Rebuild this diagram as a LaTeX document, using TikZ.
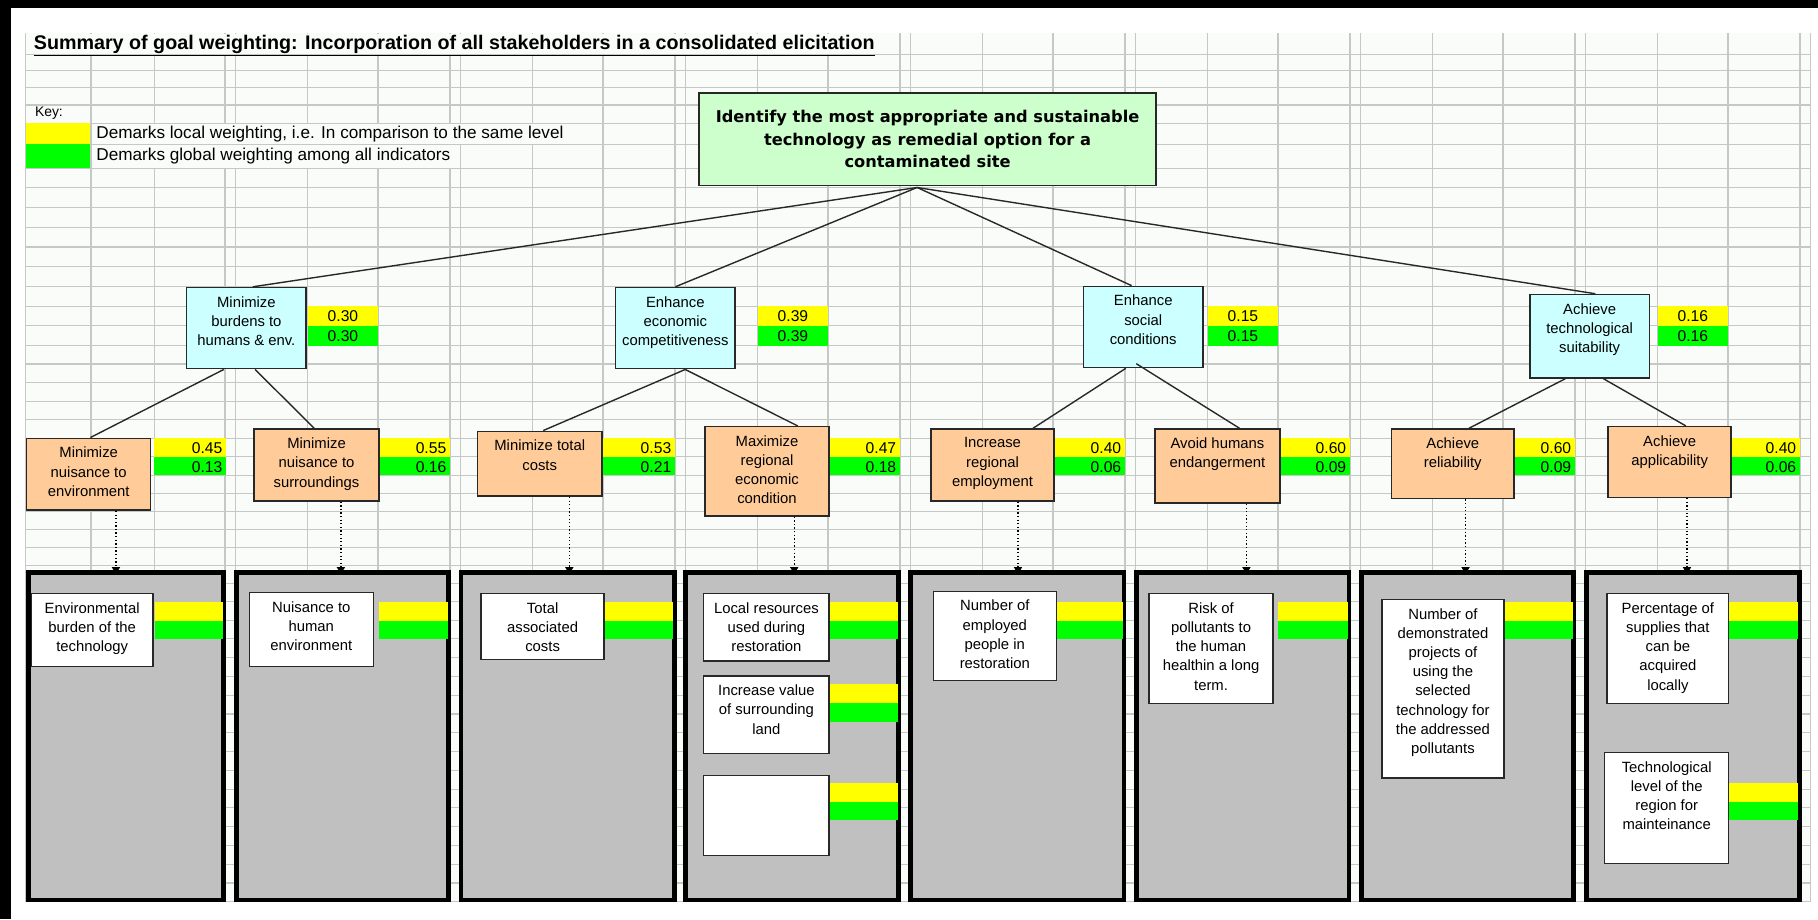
\documentclass[tikz,border=0pt]{standalone}
\usepackage{fontspec}
\setmainfont{Liberation Sans}
\newfontfamily\headfont{DejaVu Sans}
\usetikzlibrary{arrows.meta,calc}

\definecolor{cellbg}{RGB}{250,252,250}
\definecolor{gridc}{RGB}{198,200,198}
\definecolor{goalfill}{RGB}{204,255,204}
\definecolor{critfill}{RGB}{204,255,255}
\definecolor{subfill}{RGB}{255,204,153}
\definecolor{wyellow}{RGB}{255,255,0}
\definecolor{wgreen}{RGB}{0,255,0}
\definecolor{panelgray}{RGB}{192,192,192}
\definecolor{edge}{RGB}{40,40,40}

\tikzset{
  gridline/.style={draw=gridc, line width=1pt},
  goalbox/.style={draw=edge, line width=1.4pt, fill=goalfill, align=center,
    font=\headfont\bfseries\fontsize{14}{19.4}\selectfont, inner sep=0pt,
    minimum width=394pt, minimum height=80pt},
  critbox/.style={draw=edge, line width=1.3pt, fill=critfill, inner sep=0pt,
    minimum width=103pt, minimum height=70pt},
  subbox/.style={draw=edge, line width=1.3pt, fill=subfill, inner sep=0pt},
  panelbox/.style={draw=black, line width=2.8pt, fill=panelgray, inner sep=0pt},
  indbox/.style={draw=edge, line width=1.2pt, fill=white, inner sep=0pt},
  boxtext/.style={anchor=north, align=center, inner sep=0pt,
    font=\fontsize{12.8}{16.6}\selectfont},
  wnum/.style={font=\fontsize{13.5}{15}\selectfont, inner sep=0pt},
  tieline/.style={draw=edge, line width=1.2pt},
  dotarrow/.style={draw=black, line width=1.1pt, dotted,
    -{Triangle[length=6pt,width=7pt]}, shorten >=-2pt},
}

% weights of a criterion (local above, global below), numbers centred
\newcommand{\critw}[4]{%
  \fill[wyellow] (#2,264) rectangle ++(60.5,17);
  \fill[wgreen] (#2,281) rectangle ++(60.5,17);
  \node[wnum] (#1y) at ({#2+30.25},272.8) {#3};
  \node[wnum] (#1g) at ({#2+30.25},289.8) {#4};
}
% weights of a sub-criterion, numbers flush right
\newcommand{\subw}[4]{%
  \fill[wyellow] (#2,378) rectangle ++(62,16);
  \fill[wgreen] (#2,394) rectangle ++(62,16);
  \node[wnum,anchor=east] (#1y) at ({#2+59},386.5) {#3};
  \node[wnum,anchor=east] (#1g) at ({#2+59},402.5) {#4};
}
% empty weight bars inside an indicator panel
\newcommand{\panelbars}[3]{%
  \fill[wyellow] (#1,#3) rectangle (#2,{#3+16.3});
  \fill[wgreen] (#1,{#3+16.3}) rectangle (#2,{#3+32.3});
}

\begin{document}
\begin{tikzpicture}[x=1pt,y=-1pt]
\useasboundingbox (0,0) rectangle (1568,793);
\fill[white] (0,0) rectangle (1568,793);

% ---------------- worksheet grid ----------------
\fill[cellbg] (22,28.5) rectangle (1562,778);
\foreach \x in {22,78.5,133}
  \draw[gridline] (\x,28.5) -- (\x,778);
\foreach \k in {1,...,7}{
  \pgfmathsetmacro\D{194.05*\k}
  \foreach \dx in {0,9,71.5,132}
    \draw[gridline] ({\D+\dx},28.5) -- ({\D+\dx},778);
}
\draw[gridline] (1552.4,28.5) -- (1552.4,778);
\draw[gridline] (1561.4,28.5) -- (1561.4,778);
% cells covered by overflowing text
\fill[cellbg] (22.6,29) rectangle (775.6,46.5);
\fill[cellbg] (79.1,107) rectangle (519.5,124);
\fill[cellbg] (79.1,125) rectangle (396.5,144.5);
\foreach \y in {47,61,75.5,90.5,106.5,124.5,145,162,179,196,213,230,247,264,
  281,298,314,330,346,362,378,394,410,425.6,441.2,456.8,472.4,488,503.5,519,
  535,551,567.2,583.4,599.6,615.8,632,648.2,664.4,680.6,696.8,713,729.2,
  745.4,761.6,777.8}
  \draw[gridline] (22,\y) -- (1562,\y);

% ---------------- frame ----------------
\fill[black] (0,0) rectangle (1568,7);
\fill[black] (0,0) rectangle (9.5,793);

% ---------------- title and key ----------------
\node[anchor=west, inner sep=0pt] (title) at (29,39.5)
  {\fontsize{17}{19}\selectfont\bfseries\underline{Summary of goal weighting: Incorporation of all stakeholders in a consolidated elicitation}};
\node[anchor=west, inner sep=0pt, font=\fontsize{12}{14}\selectfont] (key) at (30,98) {Key:};
\fill[wyellow] (22.5,106.5) rectangle (78,124.5);
\fill[wgreen] (22.5,124.5) rectangle (78,145);
\node[anchor=west, inner sep=0pt, font=\fontsize{14.8}{16}\selectfont] (keylocal) at (83,116)
  {Demarks local weighting, i.e. In comparison to the same level};
\node[anchor=west, inner sep=0pt, font=\fontsize{14.8}{16}\selectfont] (keyglobal) at (83,135)
  {Demarks global weighting among all indicators};

% ---------------- weights ----------------
\critw{w1}{265.55}{0.30}{0.30}
\critw{w2}{653.65}{0.39}{0.39}
\critw{w3}{1041.75}{0.15}{0.15}
\critw{w4}{1429.85}{0.16}{0.16}

\subw{v1}{133}{0.45}{0.13}
\subw{v2}{326.05}{0.55}{0.16}
\subw{v3}{520.1}{0.53}{0.21}
\subw{v4}{714.15}{0.47}{0.18}
\subw{v5}{908.2}{0.40}{0.06}
\subw{v6}{1102.25}{0.60}{0.09}
\subw{v7}{1296.3}{0.60}{0.09}
\subw{v8}{1490.35}{0.40}{0.06}

% ---------------- goal ----------------
\node[goalbox] (goal) at (800,120)
  {Identify the most appropriate and sustainable\\technology as remedial option for a\\contaminated site};

% ---------------- criteria ----------------
\node[critbox] (n1) at (212.5,283) {};
\node[critbox] (n2) at (582.5,283) {};
\node[critbox] (n3) at (986,282) {};
\node[critbox, minimum height=72pt] (n4) at (1371,290) {};
\node[boxtext] (n1t) at ([yshift=-8pt]n1.north) {Minimize\\burdens to\\humans \& env.};
\node[boxtext] (n2t) at ([yshift=-8pt]n2.north) {Enhance\\economic\\competitiveness};
\node[boxtext] (n3t) at ([yshift=-8pt]n3.north) {Enhance\\social\\conditions};
\node[boxtext] (n4t) at ([yshift=-8pt]n4.north) {Achieve\\technological\\suitability};

% ---------------- sub-criteria ----------------
\node[subbox, minimum width=107pt, minimum height=62pt] (l1) at (76.5,409) {};
\node[subbox, minimum width=108pt, minimum height=62pt] (l2) at (273,401) {};
\node[subbox, minimum width=107pt, minimum height=56pt] (l3) at (465.5,400) {};
\node[subbox, minimum width=107pt, minimum height=77pt] (l4) at (661.5,406.5) {};
\node[subbox, minimum width=106pt, minimum height=62pt] (l5) at (856,401) {};
\node[subbox, minimum width=108pt, minimum height=64pt] (l6) at (1050,402) {};
\node[subbox, minimum width=106pt, minimum height=60pt] (l7) at (1253,400) {};
\node[subbox, minimum width=106pt, minimum height=61pt] (l8) at (1440,398.5) {};
\node[boxtext] (l1t) at ([yshift=-8pt]l1.north) {Minimize\\nuisance to\\environment};
\node[boxtext] (l2t) at ([yshift=-8pt]l2.north) {Minimize\\nuisance to\\surroundings};
\node[boxtext] (l3t) at ([yshift=-8pt]l3.north) {Minimize total\\costs};
\node[boxtext] (l4t) at ([yshift=-8pt]l4.north) {Maximize\\regional\\economic\\condition};
\node[boxtext] (l5t) at ([yshift=-8pt]l5.north) {Increase\\regional\\employment};
\node[boxtext] (l6t) at ([yshift=-8pt]l6.north) {Avoid humans\\endangerment};
\node[boxtext] (l7t) at ([yshift=-8pt]l7.north) {Achieve\\reliability};
\node[boxtext] (l8t) at ([yshift=-8pt]l8.north) {Achieve\\applicability};

% ---------------- indicator panels ----------------
\node[panelbox, minimum width=166.5pt, minimum height=281pt] (b1) at (108.75,635) {};
\node[panelbox, minimum width=181.5pt, minimum height=281pt] (b2) at (295.5,635) {};
\node[panelbox, minimum width=182.5pt, minimum height=281pt] (b3) at (489.5,635) {};
\node[panelbox, minimum width=182pt, minimum height=281pt] (b4) at (683.25,635) {};
\node[panelbox, minimum width=182.5pt, minimum height=281pt] (b5) at (877.5,635) {};
\node[panelbox, minimum width=182pt, minimum height=281pt] (b6) at (1071.75,635) {};
\node[panelbox, minimum width=182pt, minimum height=281pt] (b7) at (1265.75,635) {};
\node[panelbox, minimum width=182.5pt, minimum height=281pt] (b8) at (1460,635) {};

\panelbars{133.5}{193}{519}
\panelbars{326.5}{387}{519}
\panelbars{520.5}{581}{519}
\panelbars{714.5}{775}{519}
\panelbars{714.5}{775}{590}
\panelbars{714.5}{775}{675}
\panelbars{908.5}{969}{519}
\panelbars{1102.5}{1163}{519}
\panelbars{1296.5}{1357}{519}
\panelbars{1490.5}{1551}{519}
\panelbars{1490.5}{1551}{675}

\foreach \b in {b1,b2,b3,b4,b5,b6,b7,b8}
  \draw[black, line width=2.8pt] (\b.south west) rectangle (\b.north east);

% indicators
\node[indbox, minimum width=105pt, minimum height=63pt] (i1) at (79.5,543.5) {};
\node[indbox, minimum width=107pt, minimum height=64pt] (i2) at (268.5,543) {};
\node[indbox, minimum width=106pt, minimum height=57pt] (i3) at (468,540.5) {};
\node[indbox, minimum width=108pt, minimum height=58pt] (i4a) at (661,541) {};
\node[indbox, minimum width=108pt, minimum height=67pt] (i4b) at (661,616.5) {};
\node[indbox, minimum width=108pt, minimum height=69pt] (i4c) at (661,703.5) {};
\node[indbox, minimum width=106pt, minimum height=77pt] (i5) at (858,548.5) {};
\node[indbox, minimum width=107pt, minimum height=95pt] (i6) at (1044.5,559.5) {};
\node[indbox, minimum width=105pt, minimum height=154pt] (i7) at (1244.5,594) {};
\node[indbox, minimum width=105pt, minimum height=95pt] (i8a) at (1438.5,559.5) {};
\node[indbox, minimum width=107pt, minimum height=96pt] (i8b) at (1437.5,697) {};
\node[boxtext] (i1t) at ([yshift=-8pt]i1.north) {Environmental\\burden of the\\technology};
\node[boxtext] (i2t) at ([yshift=-8pt]i2.north) {Nuisance to\\human\\environment};
\node[boxtext] (i3t) at ([yshift=-8pt]i3.north) {Total\\associated\\costs};
\node[boxtext] (i4at) at ([yshift=-8pt]i4a.north) {Local resources\\used during\\restoration};
\node[boxtext] (i4bt) at ([yshift=-8pt]i4b.north) {Increase value\\of surrounding\\land};
\node[boxtext] (i5t) at ([yshift=-8pt]i5.north) {Number of\\employed\\people in\\restoration};
\node[boxtext] (i6t) at ([yshift=-8pt]i6.north) {Risk of\\pollutants to\\the human\\healthin a long\\term.};
\node[boxtext] (i7t) at ([yshift=-8pt]i7.north) {Number of\\demonstrated\\projects of\\using the\\selected\\technology for\\the addressed\\pollutants};
\node[boxtext] (i8at) at ([yshift=-8pt]i8a.north) {Percentage of\\supplies that\\can be\\acquired\\locally};
\node[boxtext] (i8bt) at ([yshift=-8pt]i8b.north) {Technological\\level of the\\region for\\mainteinance};

% ---------------- connectors ----------------
\coordinate (hub) at ([xshift=-9pt,yshift=-1pt]goal.south);
\draw[tieline] (hub) -- ([xshift=5.5pt]n1.north);
\draw[tieline] (hub) -- (n2.north);
\draw[tieline] (hub) -- ([xshift=-10pt]n3.north);
\draw[tieline] (hub) -- ([xshift=5pt]n4.north);

\draw[tieline] ([xshift=-19.5pt]n1.south) -- ([xshift=1.5pt]l1.north);
\draw[tieline] ([xshift=7.5pt]n1.south) -- ([xshift=-2pt]l2.north);
\draw[tieline] ([xshift=8.5pt]n2.south) -- ([xshift=3pt]l3.north);
\draw[tieline] ([xshift=8.5pt]n2.south) -- ([xshift=26.5pt]l4.north);
\draw[tieline] ([xshift=-15pt]n3.south) -- ([xshift=35pt]l5.north);
\draw[tieline] ([xshift=-6pt,yshift=4pt]n3.south) -- ([xshift=19pt]l6.north);
\draw[tieline] ([xshift=-21pt]n4.south) -- ([xshift=14pt]l7.north);
\draw[tieline] ([xshift=12pt]n4.south) -- ([xshift=14pt]l8.north);

\draw[dotarrow] ([xshift=23.5pt]l1.south) -- ([xshift=23.5pt]l1.south |- b1.north);
\draw[dotarrow] ([xshift=21pt]l2.south) -- ([xshift=21pt]l2.south |- b2.north);
\draw[dotarrow] ([xshift=25.5pt]l3.south) -- ([xshift=25.5pt]l3.south |- b3.north);
\draw[dotarrow] ([xshift=23.5pt]l4.south) -- ([xshift=23.5pt]l4.south |- b4.north);
\draw[dotarrow] ([xshift=22pt]l5.south) -- ([xshift=22pt]l5.south |- b5.north);
\draw[dotarrow] ([xshift=25pt]l6.south) -- ([xshift=25pt]l6.south |- b6.north);
\draw[dotarrow] ([xshift=11pt]l7.south) -- ([xshift=11pt]l7.south |- b7.north);
\draw[dotarrow] ([xshift=15pt]l8.south) -- ([xshift=15pt]l8.south |- b8.north);
\end{tikzpicture}
\end{document}
